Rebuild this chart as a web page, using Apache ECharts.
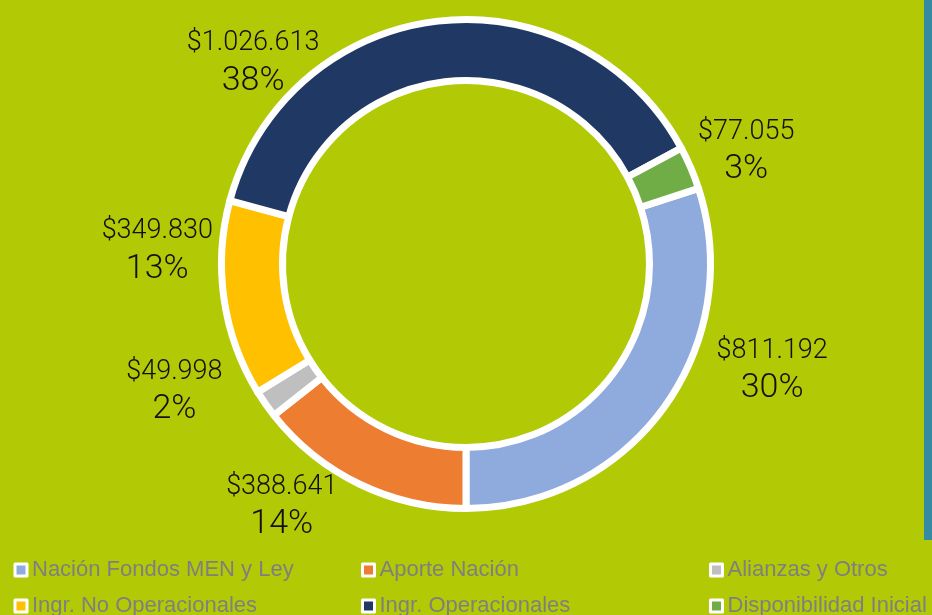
<!DOCTYPE html>
<html>
<head>
<meta charset="utf-8">
<title>Distribución de ingresos</title>
<script src="https://cdn.jsdelivr.net/npm/echarts@6/dist/echarts.min.js"></script>
<style>
  html, body { margin: 0; padding: 0; background: #b2ca05; }
  #chart { width: 932px; height: 615px; }
</style>
</head>
<body>
<div id="chart"></div>
<script>
// Fuentes de ingreso y montos
const categories = [
  'Nación Fondos MEN y Ley',
  'Aporte Nación',
  'Alianzas y Otros',
  'Ingr. No Operacionales',
  'Ingr. Operacionales',
  'Disponibilidad Inicial'
];
const amounts = [811192, 388641, 49998, 349830, 1026613, 77055];
const sliceColors = ['#8faadc', '#ed7d31', '#bfbfbf', '#ffc000', '#203864', '#70ad47'];

// Legend columns (two rows each, read left to right)
const legendColumns = [
  [categories[0], categories[3]],
  [categories[1], categories[4]],
  [categories[2], categories[5]]
];

// Label placement around the ring: [angle in degrees, distance from centre]
const labelPolar = [
  [-19.1, 324],
  [-127.3, 304],
  [-156.5, 318],
  [177.5, 309],
  [136.6, 293],
  [21.9, 302]
];

const CX = 466, CY = 264;

function fmtMoney(v) {
  return '$' + String(v).replace(/\B(?=(\d{3})+(?!\d))/g, '.');
}

const total = amounts.reduce((a, b) => a + b, 0);
// first slice ends exactly at six o'clock
const startAngle = -90 + 360 * amounts[0] / total;

const chart = echarts.init(document.getElementById('chart'));

const labelFont = 'Roboto, "Liberation Sans", sans-serif';
const legendFont = '"Liberation Sans", Arial, sans-serif';
const legendLefts = [13.5, 361, 709];

chart.setOption({
  backgroundColor: '#b2ca05',
  animation: false,
  color: sliceColors,
  graphic: [{
    type: 'rect',
    shape: { x: 924, y: 0, width: 8, height: 540 },
    style: { fill: '#358ba2' },
    silent: true
  }],
  legend: legendColumns.map((names, i) => ({
    data: names,
    orient: 'vertical',
    left: legendLefts[i],
    top: 559,
    width: 320,
    height: 100,
    padding: 0,
    itemGap: 14,
    itemWidth: 12,
    itemHeight: 12,
    icon: 'rect',
    selectedMode: false,
    itemStyle: { borderColor: '#ffffff', borderWidth: 3 },
    textStyle: {
      fontFamily: legendFont,
      fontSize: 22,
      color: '#7f7f7f',
      padding: [0, 0, 0, 0]
    }
  })),
  series: [{
    type: 'pie',
    center: [CX, CY],
    radius: [183.5, 244.5],
    startAngle: startAngle,
    clockwise: true,
    percentPrecision: 0,
    avoidLabelOverlap: false,
    silent: true,
    itemStyle: { borderColor: '#ffffff', borderWidth: 7 },
    labelLine: { show: false },
    emphasis: { disabled: true },
    label: {
      show: true,
      position: 'outside',
      formatter: p => '{v|' + fmtMoney(p.value) + '}\n{p|' + p.percent + '%}',
      rich: {
        v: { fontFamily: labelFont, fontWeight: 300, fontSize: 27, lineHeight: 37, color: '#111', align: 'center' },
        p: { fontFamily: labelFont, fontWeight: 300, fontSize: 34, lineHeight: 38, color: '#111', align: 'center' }
      }
    },
    labelLayout: params => {
      const [ang, dist] = labelPolar[params.dataIndex];
      const r = ang * Math.PI / 180;
      return {
        x: CX + dist * Math.cos(r),
        y: CY - dist * Math.sin(r),
        align: 'center',
        verticalAlign: 'middle'
      };
    },
    data: categories.map((name, i) => ({ name, value: amounts[i] }))
  }]
});
</script>
</body>
</html>
